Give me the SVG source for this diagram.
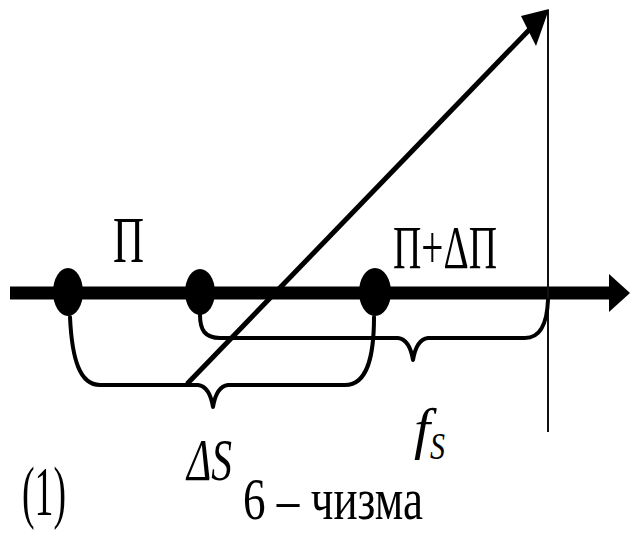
<svg xmlns="http://www.w3.org/2000/svg" width="631" height="533" viewBox="0 0 631 533">
<style>
.t{font-family:"Liberation Serif","DejaVu Serif",serif;fill:#000}
.br{fill:none;stroke:#000;stroke-width:4;stroke-linecap:round;stroke-linejoin:round}
.node{fill:#000}
</style>
<rect width="631" height="533" fill="#fff"/>
<g id="axis">
<line x1="10" y1="293" x2="614" y2="293" stroke="#000" stroke-width="13"/>
<polygon points="609,274 630,293 609,312" fill="#000"/>
</g>
<g id="connectors">
<line x1="548" y1="10" x2="548" y2="432" stroke="#111" stroke-width="2"/>
<path class="br" d="M70,317 C72,360 80,385 100,385 L198,385 C206,386 211,395 213,407 C215,395 220,386 228,385 L345,385 C368,385 374,355 374,317"/>
<path class="br" d="M200,315 C200,330 205,338 220,338 L398,338 C406,339 411,348 413,360 C415,348 420,339 428,338 L525,338 C540,338 547,325 548,300"/>
<line x1="187" y1="384" x2="530" y2="29" stroke="#000" stroke-width="5"/>
<polygon points="549,9 521,16 536,46" fill="#000"/>
</g>
<g id="n1"><ellipse class="node" cx="68" cy="292" rx="15" ry="24"/></g>
<g id="n2"><ellipse class="node" cx="200" cy="292" rx="15" ry="23"/></g>
<g id="n3"><ellipse class="node" cx="375" cy="292" rx="16" ry="24"/></g>
<g id="labels">
<text class="t" x="113" y="262" font-size="66" textLength="31" lengthAdjust="spacingAndGlyphs">Π</text>
<text class="t" x="393" y="268" font-size="62" textLength="104" lengthAdjust="spacingAndGlyphs">Π+ΔΠ</text>
<text class="t" x="187" y="480" font-size="60" font-style="italic" textLength="45" lengthAdjust="spacingAndGlyphs">ΔS</text>
<text class="t" x="414" y="448" font-size="58" font-style="italic">f</text>
<text class="t" x="430" y="459" font-size="38" font-style="italic" textLength="15" lengthAdjust="spacingAndGlyphs">S</text>
<text class="t" x="22" y="515" font-size="70" textLength="44" lengthAdjust="spacingAndGlyphs">(1)</text>
<text class="t" x="243" y="519" font-size="60" textLength="180" lengthAdjust="spacingAndGlyphs">6 – чизма</text>
</g>
</svg>
